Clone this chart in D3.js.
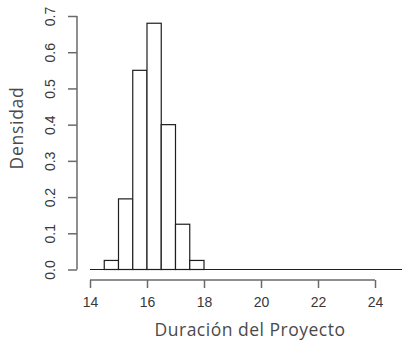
<!DOCTYPE html>
<html>
<head>
<meta charset="utf-8">
<script src="https://cdn.jsdelivr.net/npm/d3@7"></script>
<style>
  html, body { margin: 0; padding: 0; background: #fff; }
  svg { display: block; }
</style>
</head>
<body>
<svg id="chart" width="402" height="342"></svg>
<script>
// Histogram bins (left edges, width 0.5) and their densities
const binStarts = [14.5, 15.0, 15.5, 16.0, 16.5, 17.0, 17.5];
const binWidth = 0.5;
const densities = [0.025, 0.195, 0.55, 0.68, 0.40, 0.125, 0.025];
const xTicks = [14, 16, 18, 20, 22, 24];
const yTicks = [0, 0.1, 0.2, 0.3, 0.4, 0.5, 0.6, 0.7];
const xTitle = "Duración del Proyecto";
const yTitle = "Densidad";

const svg = d3.select("#chart");

const x = d3.scaleLinear().domain([14, 24]).range([90, 375]);
const y = d3.scaleLinear().domain([0, 0.7]).range([269.5, 16]);

const axisColor = "#6a6a6a";
const textColor = "#383838";

// Bars
svg.append("g")
  .selectAll("rect")
  .data(binStarts)
  .join("rect")
  .attr("x", (d) => x(d))
  .attr("y", (d, i) => y(densities[i]))
  .attr("width", (d) => x(d + binWidth) - x(d))
  .attr("height", (d, i) => y(0) - y(densities[i]))
  .attr("fill", "#fff")
  .attr("stroke", "#1e1e1e")
  .attr("stroke-width", 1.2);

// Zero density line across the plot
svg.append("line")
  .attr("x1", x(14)).attr("x2", 402)
  .attr("y1", y(0)).attr("y2", y(0))
  .attr("stroke", "#1e1e1e")
  .attr("stroke-width", 1.2);

// X axis (detached below the bars)
const xAxis = svg.append("g")
  .attr("transform", "translate(0,280)")
  .call(d3.axisBottom(x).tickValues(xTicks).tickSize(8).tickPadding(9).tickFormat(d3.format("d")));
xAxis.select(".domain").attr("stroke", axisColor).attr("stroke-width", 1.5)
  .attr("d", `M${x(14)},0H${x(24)}`);
xAxis.selectAll(".tick line").attr("stroke", axisColor).attr("stroke-width", 1.5);
xAxis.selectAll(".tick text")
  .attr("fill", textColor)
  .style("font-family", "'Liberation Sans', Arial, sans-serif")
  .style("font-size", "14px");

// Y axis with vertical tick labels
const yAxis = svg.append("g")
  .attr("transform", "translate(77,0)")
  .call(d3.axisLeft(y).tickValues(yTicks).tickSize(9).tickFormat(d3.format(".1f")));
yAxis.select(".domain").attr("stroke", axisColor).attr("stroke-width", 1.5)
  .attr("d", `M0,${y(0)}V${y(0.7)}`);
yAxis.selectAll(".tick line").attr("stroke", axisColor).attr("stroke-width", 1.5);
yAxis.selectAll(".tick text")
  .attr("fill", textColor)
  .attr("x", null).attr("dy", null)
  .attr("transform", "translate(-22,0) rotate(-90)")
  .attr("text-anchor", "middle")
  .style("font-family", "'Liberation Sans', Arial, sans-serif")
  .style("font-size", "14px");

// Axis titles
svg.append("text")
  .attr("x", 250).attr("y", 336)
  .attr("text-anchor", "middle")
  .attr("fill", "#4a4a4a")
  .style("font-family", "'Open Sans', sans-serif")
  .style("font-size", "17.5px")
  .style("letter-spacing", "0.5px")
  .text(xTitle);

svg.append("text")
  .attr("transform", "translate(23,128) rotate(-90)")
  .attr("text-anchor", "middle")
  .attr("fill", "#4a4a4a")
  .style("font-family", "'Open Sans', sans-serif")
  .style("font-size", "17.5px")
  .style("letter-spacing", "0.7px")
  .text(yTitle);
</script>
</body>
</html>
